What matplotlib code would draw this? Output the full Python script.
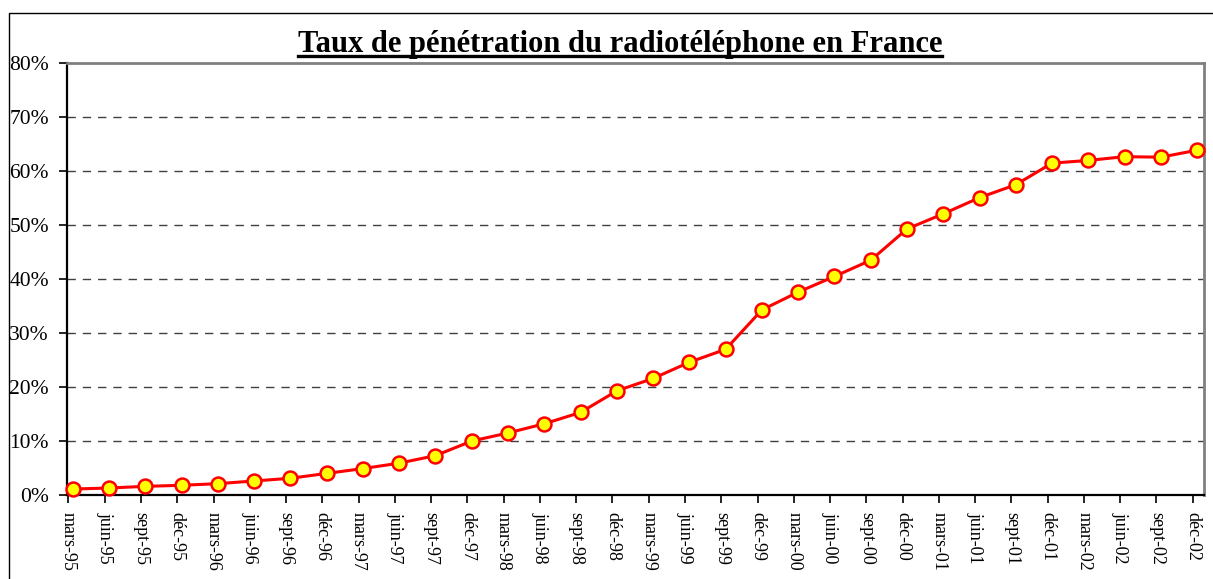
import matplotlib
matplotlib.use("Agg")
import matplotlib.pyplot as plt
import numpy as np
from matplotlib.lines import Line2D
from matplotlib.patches import Rectangle

categories = ["mars-95", "juin-95", "sept-95", "déc-95",
              "mars-96", "juin-96", "sept-96", "déc-96",
              "mars-97", "juin-97", "sept-97", "déc-97",
              "mars-98", "juin-98", "sept-98", "déc-98",
              "mars-99", "juin-99", "sept-99", "déc-99",
              "mars-00", "juin-00", "sept-00", "déc-00",
              "mars-01", "juin-01", "sept-01", "déc-01",
              "mars-02", "juin-02", "sept-02", "déc-02"]
penetration = [1.1, 1.3, 1.6, 1.8,
               2.1, 2.6, 3.1, 4.0,
               4.9, 5.9, 7.3, 10.0,
               11.5, 13.2, 15.3, 19.3,
               21.6, 24.6, 27.0, 34.3,
               37.6, 40.5, 43.5, 49.3,
               52.1, 55.1, 57.5, 61.5,
               62.0, 62.7, 62.6, 63.9]
y_ticks = [0, 10, 20, 30, 40, 50, 60, 70, 80]
title = "Taux de pénétration du radiotéléphone en France"

plt.rcParams['font.family'] = ['Liberation Serif', 'DejaVu Serif']

W, H = 1213, 579
fig = plt.figure(figsize=(W / 100, H / 100), dpi=100)
fig.patch.set_facecolor("white")

# outer chart frame
fig.add_artist(Rectangle((9 / W, -0.05), 1.1, 1 - 13 / H + 0.05,
                         transform=fig.transFigure, fill=False,
                         edgecolor="black", linewidth=1.0))

ax = fig.add_axes([67 / W, 1 - 495 / H, (1204 - 67) / W, (495 - 63.3) / H])
x = np.arange(len(categories))
ax.plot(x, penetration, color="#ff0000", linewidth=2.2, marker="o",
        markersize=10, markerfacecolor="#ffff00", markeredgecolor="#ff0000",
        markeredgewidth=1.8, zorder=5, clip_on=False)

ax.set_xlim(-0.16, len(categories) - 1 + 0.19)
ax.set_ylim(0, 80)
ax.set_yticks(y_ticks)
ax.set_yticklabels([f"{v}%" for v in y_ticks], fontsize=15.5)
ax.set_xticks(x - 0.12)
ax.set_xticklabels(categories, rotation=-90, fontsize=13, va="top", ha="center")

for v in y_ticks[1:-1]:
    ax.axhline(v, color="#404040", linewidth=1.0, linestyle=(0, (6, 5)), zorder=1)

for s in ["top", "right"]:
    ax.spines[s].set_color("#808080")
    ax.spines[s].set_linewidth(2.0)
for s in ["left", "bottom"]:
    ax.spines[s].set_color("black")
    ax.spines[s].set_linewidth(1.6)

ax.tick_params(axis="both", direction="out", length=6, width=1.2, color="black")
ax.tick_params(axis="y", pad=7)
ax.tick_params(axis="x", pad=6)

t = fig.text(620 / W, 1 - 52 / H, title, ha="center", va="baseline",
             fontsize=22, fontweight="bold")
fig.canvas.draw()
bb = t.get_window_extent()
fig.add_artist(Line2D([bb.x0 / W, bb.x1 / W], [1 - 56 / H, 1 - 56 / H],
                      transform=fig.transFigure, color="black", linewidth=2.4))

fig.savefig("out.png", dpi=100)
